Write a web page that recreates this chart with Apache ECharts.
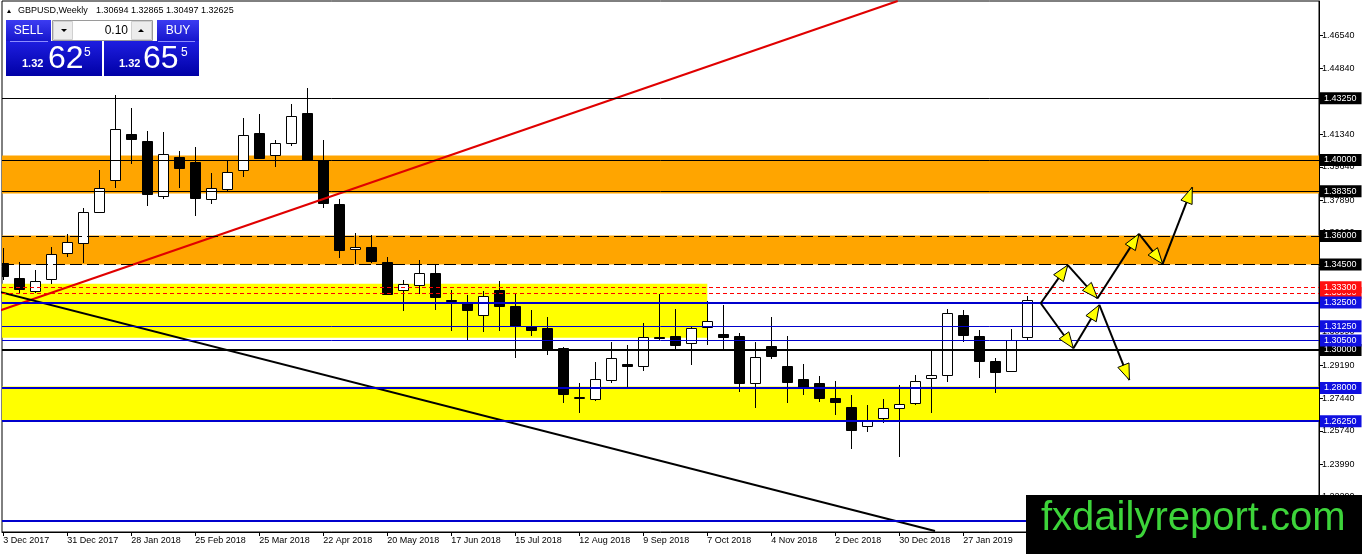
<!DOCTYPE html>
<html><head><meta charset="utf-8">
<script src="https://cdn.jsdelivr.net/npm/echarts@6/dist/echarts.min.js"></script>
<style>html,body{margin:0;padding:0;background:#fff}#c{width:1362px;height:554px}</style>
</head><body><div id="c"></div><script>
// ---- weekly GBPUSD candles (week index 0 = 3 Dec 2017) ----
const opens = [1.3457,1.3379,1.3310,1.3373,1.3513,1.3562,1.3728,1.3895,1.4136,1.4099,
 1.3809,1.4014,1.3987,1.3793,1.3849,1.3945,1.4140,1.4024,1.4087,1.4246,
 1.3998,1.3769,1.3531,1.3541,1.3463,1.3317,1.3340,1.3405,1.3265,1.3253,
 1.3182,1.3317,1.3233,1.3124,1.3118,1.3011,1.2749,1.2743,1.2841,1.2925,
 1.2914,1.3069,1.3076,1.3037,1.3123,1.3086,1.3076,1.2827,1.3023,1.2918,
 1.2845,1.2827,1.2745,1.2701,1.2602,1.2644,1.2696,1.2722,1.2854,1.2867,
 1.3186,1.3076,1.2944,1.2888,1.30694];
const highs = [1.3538,1.3463,1.3421,1.3544,1.3611,1.3746,1.3947,1.4344,1.4276,1.4150,
 1.4145,1.4047,1.4066,1.3930,1.3994,1.4220,1.4241,1.4105,1.4293,1.4381,
 1.4103,1.3793,1.3615,1.3604,1.3487,1.3366,1.3475,1.3454,1.3317,1.3291,
 1.3308,1.3364,1.3296,1.3212,1.3175,1.3015,1.2827,1.2938,1.3044,1.3028,
 1.3142,1.3296,1.3217,1.3128,1.3256,1.3238,1.3090,1.3043,1.3174,1.3076,
 1.2927,1.2862,1.2839,1.2761,1.2708,1.2740,1.2818,1.2866,1.3002,1.3216,
 1.3212,1.3107,1.2959,1.3111,1.32865];
const lows = [1.3370,1.3300,1.3302,1.3345,1.3492,1.3457,1.3723,1.3854,1.3977,1.3760,
 1.3793,1.3854,1.3707,1.3767,1.3837,1.3912,1.4006,1.3964,1.4075,1.3995,
 1.3746,1.3484,1.3454,1.3457,1.3292,1.3203,1.3295,1.3208,1.3098,1.3046,
 1.3093,1.3098,1.2959,1.3072,1.2972,1.2722,1.2666,1.2731,1.2827,1.2806,
 1.2892,1.3055,1.3007,1.2920,1.3028,1.3006,1.2778,1.2696,1.2955,1.2719,
 1.2762,1.2726,1.2657,1.2477,1.2568,1.2614,1.2439,1.2708,1.2670,1.2833,
 1.3040,1.2850,1.2775,1.2885,1.30497];
const closes = [1.3387,1.3321,1.3363,1.3506,1.3568,1.3725,1.3851,1.4161,1.4111,1.3819,
 1.4029,1.3959,1.3798,1.3851,1.3938,1.4129,1.4012,1.4087,1.4234,1.4000,
 1.3775,1.3527,1.3541,1.3466,1.3295,1.3345,1.3405,1.3279,1.3259,1.3208,
 1.3282,1.3229,1.3128,1.3103,1.3002,1.2770,1.2750,1.2848,1.2959,1.2914,
 1.3069,1.3067,1.3027,1.3118,1.3153,1.3069,1.2827,1.2964,1.2967,1.2830,
 1.2806,1.2749,1.2728,1.2579,1.2629,1.2696,1.2717,1.2839,1.2871,1.3195,
 1.3077,1.2941,1.2883,1.3051,1.32625];

// ---- axis ticks ----
const labelWeeks = [0,4,8,12,16,20,24,28,32,36,40,44,48,52,56,60];
const dateLabels = ['3 Dec 2017','31 Dec 2017','28 Jan 2018','25 Feb 2018','25 Mar 2018','22 Apr 2018',
 '20 May 2018','17 Jun 2018','15 Jul 2018','12 Aug 2018','9 Sep 2018','7 Oct 2018','4 Nov 2018',
 '2 Dec 2018','30 Dec 2018','27 Jan 2019'];
const priceTicks = [1.4654,1.4484,1.4313,1.4134,1.3964,1.3789,1.3619,1.3444,1.3269,1.3099,
 1.2919,1.2744,1.2574,1.2399,1.2229];

// ---- horizontal levels & zones ----
const solidBlackLevels = [1.4325, 1.4000, 1.3835];
const dashedBlackLevels = [1.3600, 1.3450];
const thickBlackLevels = [1.3000];
const redDottedLevels = [1.3300, 1.3330];
const thickBlueLevels = [1.3250, 1.2800, 1.2625, 1.2100];
const thinBlueLevels = [1.3125, 1.3050];
const orangeZones = [[1.4024, 1.3823], [1.3602, 1.3450]];
const yellowZoneUpper = [1.3349, 1.3064];
const yellowZoneUpperEndWeek = 44;
const yellowZoneLower = [1.2808, 1.2628];

// ---- trend lines (week index, price) ----
const redTrendX = [-0.206, 55.9];
const redTrendY = [1.3208, 1.4837];
const blackTrendX = [-0.206, 58.23];
const blackTrendY = [1.3305, 1.2047];

// ---- projection arrows ----
const upPathX = [64.84, 66.53, 68.39, 70.98, 72.46, 74.31];
const upPathY = [1.3246, 1.3447, 1.3272, 1.3611, 1.3453, 1.3856];
const downPathX = [64.84, 66.88, 68.50, 70.38];
const downPathY = [1.3246, 1.3009, 1.3237, 1.2842];

// ---- view range ----
const xMin = -0.08, xMax = 82.23;
const yMin = 1.20421, yMax = 1.48368;

const FF = "'Liberation Sans', Arial, sans-serif";
const BLUE = '#0000cd';

const candles = opens.map((o, i) => [i, o, highs[i], lows[i], closes[i]]);
const segs = [];
for (let k = 1; k < upPathX.length; k++) segs.push([upPathX[k-1], upPathY[k-1], upPathX[k], upPathY[k]]);
for (let k = 1; k < downPathX.length; k++) segs.push([downPathX[k-1], downPathY[k-1], downPathX[k], downPathY[k]]);

function renderCandle(params, api) {
  const i = api.value(0), o = api.value(1), h = api.value(2), l = api.value(3), c = api.value(4);
  const po = api.coord([i, o]), pc = api.coord([i, c]), ph = api.coord([i, h]), pl = api.coord([i, l]);
  const cx = Math.round(po[0]) + 0.5;
  let top = Math.round(Math.min(po[1], pc[1])), bot = Math.round(Math.max(po[1], pc[1]));
  if (bot - top < 1) bot = top + 1;
  return { type: 'group', children: [
    { type: 'line', shape: { x1: cx, y1: Math.round(ph[1]), x2: cx, y2: Math.round(pl[1]) }, style: { stroke: '#000', lineWidth: 1 } },
    { type: 'rect', shape: { x: cx - 5, y: top + 0.5, width: 10, height: bot - top }, style: { fill: c >= o ? '#fff' : '#000', stroke: '#000', lineWidth: 1 } }
  ]};
}
function renderArrow(params, api) {
  const a = api.coord([api.value(0), api.value(1)]), b = api.coord([api.value(2), api.value(3)]);
  const dx = b[0] - a[0], dy = b[1] - a[1], len = Math.hypot(dx, dy), ux = dx / len, uy = dy / len;
  const hl = 16, hw = 6;
  const bx = b[0] - ux * hl, by = b[1] - uy * hl;
  return { type: 'group', children: [
    { type: 'line', shape: { x1: a[0], y1: a[1], x2: b[0], y2: b[1] }, style: { stroke: '#000', lineWidth: 2 } },
    { type: 'polygon', shape: { points: [[b[0], b[1]], [bx - uy * hw, by + ux * hw], [bx + uy * hw, by - ux * hw]] },
      style: { fill: '#ffff00', stroke: '#000', lineWidth: 1 } }
  ]};
}

function lvl(v, color, width, type, box) {
  return { yAxis: v, lineStyle: { color: color, width: width, type: type },
    label: { backgroundColor: box || color } };
}
const levelItems = [].concat(
  solidBlackLevels.map(v => lvl(v, '#000', 1, 'solid')),
  dashedBlackLevels.map(v => lvl(v, '#000', 1, [12, 5])),
  thickBlackLevels.map(v => lvl(v, '#000', 2, 'solid')),
  redDottedLevels.map(v => lvl(v, '#ff0000', 1, [4, 3], '#ff1010')),
  thickBlueLevels.map(v => lvl(v, BLUE, 2, 'solid', '#1010e0')),
  thinBlueLevels.map(v => lvl(v, BLUE, 1, 'solid', '#1010e0'))
);

const zoneItems = [].concat(
  orangeZones.map(z => [{ yAxis: z[0], itemStyle: { color: '#ffa500' } }, { yAxis: z[1] }]),
  [[{ xAxis: xMin, yAxis: yellowZoneUpper[0], itemStyle: { color: '#ffff00' } }, { xAxis: yellowZoneUpperEndWeek, yAxis: yellowZoneUpper[1] }]],
  [[{ yAxis: yellowZoneLower[0], itemStyle: { color: '#ffff00' } }, { yAxis: yellowZoneLower[1] }]]
);

const headGrad = { type: 'linear', x: 0, y: 0, x2: 0, y2: 1, colorStops: [{ offset: 0, color: '#3c3cf2' }, { offset: 1, color: '#1616cc' }] };
const priceGrad = { type: 'linear', x: 0, y: 0, x2: 0, y2: 1, colorStops: [{ offset: 0, color: '#1e1ee0' }, { offset: 1, color: '#0000a6' }] };
function txt(x, y, s, font, fill, align) {
  return { type: 'text', x: x, y: y, z: 101, style: { text: s, font: font, fill: fill || '#000', textAlign: align || 'left', textVerticalAlign: 'middle' } };
}

const chart = echarts.init(document.getElementById('c'), null, { renderer: 'canvas' });
chart.setOption({
  animation: false,
  backgroundColor: '#fff',
  grid: { left: 2, right: 43, top: 1, bottom: 22, show: true, borderColor: '#000', borderWidth: 1, backgroundColor: '#fff' },
  xAxis: {
    type: 'value', min: xMin, max: xMax,
    axisLine: { show: true, onZero: false, lineStyle: { color: '#000' } },
    axisTick: { show: true, customValues: labelWeeks, length: 4, lineStyle: { color: '#000' } },
    axisLabel: { customValues: labelWeeks, formatter: v => dateLabels[labelWeeks.indexOf(v)], align: 'left',
      fontSize: 9, color: '#000', margin: 4, fontFamily: FF },
    splitLine: { show: false }
  },
  yAxis: {
    type: 'value', position: 'right', min: yMin, max: yMax, scale: true,
    axisLine: { show: true, onZero: false, lineStyle: { color: '#000' } },
    axisTick: { show: true, customValues: priceTicks, length: 4, lineStyle: { color: '#000' } },
    axisLabel: { customValues: priceTicks, formatter: v => v.toFixed(5), color: '#000', fontSize: 9, margin: 3, fontFamily: FF },
    splitLine: { show: false }
  },
  series: [
    { type: 'line', name: 'zones', data: [], z: 1, silent: true,
      markArea: { silent: true, data: zoneItems } },
    { type: 'custom', name: 'GBPUSD', renderItem: renderCandle, data: candles, encode: { x: 0, y: [1, 2, 3, 4] }, clip: true, z: 2, silent: true },
    { type: 'line', name: 'levels', data: [], z: 3, silent: true,
      markLine: { silent: true, precision: 5, symbol: ['none', 'none'], animation: false, data: levelItems,
        label: { show: true, position: 'end', distance: 1, formatter: p => Number(p.value).toFixed(5),
          color: '#fff', fontSize: 9, fontFamily: FF, padding: [1, 5, 0, 4], lineHeight: 11 },
        emphasis: { disabled: true } } },
    { type: 'line', name: 'red trend', data: redTrendX.map((x, k) => [x, redTrendY[k]]), showSymbol: false, z: 4, silent: true,
      lineStyle: { color: '#e00000', width: 2 } },
    { type: 'line', name: 'black trend', data: blackTrendX.map((x, k) => [x, blackTrendY[k]]), showSymbol: false, z: 4, silent: true,
      lineStyle: { color: '#000', width: 2 } },
    { type: 'custom', name: 'arrows', renderItem: renderArrow, data: segs, encode: { x: [0, 2], y: [1, 3] }, clip: false, z: 5, silent: true }
  ],
  graphic: [
    { type: 'polygon', z: 101, shape: { points: [[7, 13], [11, 13], [9, 9.5]] }, style: { fill: '#000' } },
    txt(18, 10.5, 'GBPUSD,Weekly', '9px ' + FF),
    txt(96, 10.5, '1.30694 1.32865 1.30497 1.32625', '9px ' + FF),
    // SELL block
    { type: 'rect', z: 100, shape: { x: 6, y: 20, width: 45, height: 21 }, style: { fill: headGrad } },
    { type: 'rect', z: 100, shape: { x: 6, y: 41, width: 96, height: 35 }, style: { fill: priceGrad } },
    { type: 'line', z: 101, shape: { x1: 10, y1: 41.5, x2: 48, y2: 41.5 }, style: { stroke: '#8c8cff', lineWidth: 1 } },
    txt(28.5, 30.5, 'SELL', '12px ' + FF, '#fff', 'center'),
    txt(22, 64.4, '1.32', 'bold 11px ' + FF, '#fff'),
    txt(48, 58.8, '62', '32px ' + FF, '#fff'),
    txt(84, 52.5, '5', '12px ' + FF, '#fff'),
    // spinner
    { type: 'rect', z: 100, shape: { x: 52.5, y: 20.5, width: 100, height: 20 }, style: { fill: '#fff', stroke: '#9a9a9a', lineWidth: 1 } },
    { type: 'rect', z: 100, shape: { x: 53.5, y: 21.5, width: 19, height: 18 }, style: { fill: '#ececec', stroke: '#d0d0d0', lineWidth: 1 } },
    { type: 'rect', z: 100, shape: { x: 131.5, y: 21.5, width: 20, height: 18 }, style: { fill: '#ececec', stroke: '#d0d0d0', lineWidth: 1 } },
    { type: 'polygon', z: 101, shape: { points: [[61, 29], [67, 29], [64, 32]] }, style: { fill: '#000' } },
    { type: 'polygon', z: 101, shape: { points: [[138, 32], [144, 32], [141, 29]] }, style: { fill: '#000' } },
    txt(128, 30.5, '0.10', '12px ' + FF, '#000', 'right'),
    // BUY block
    { type: 'rect', z: 100, shape: { x: 157, y: 20, width: 42, height: 21 }, style: { fill: headGrad } },
    { type: 'rect', z: 100, shape: { x: 104, y: 41, width: 95, height: 35 }, style: { fill: priceGrad } },
    { type: 'line', z: 101, shape: { x1: 158, y1: 41.5, x2: 195, y2: 41.5 }, style: { stroke: '#8c8cff', lineWidth: 1 } },
    txt(178, 30.5, 'BUY', '12px ' + FF, '#fff', 'center'),
    txt(119, 64.4, '1.32', 'bold 11px ' + FF, '#fff'),
    txt(143, 58.8, '65', '32px ' + FF, '#fff'),
    txt(181, 52.5, '5', '12px ' + FF, '#fff'),
    // watermark
    { type: 'rect', z: 100, shape: { x: 1026, y: 495, width: 336, height: 59 }, style: { fill: '#000' } },
    txt(1041, 519, 'fxdailyreport.com', '40px ' + FF, '#3dd43a')
  ]
});
</script></body></html>
